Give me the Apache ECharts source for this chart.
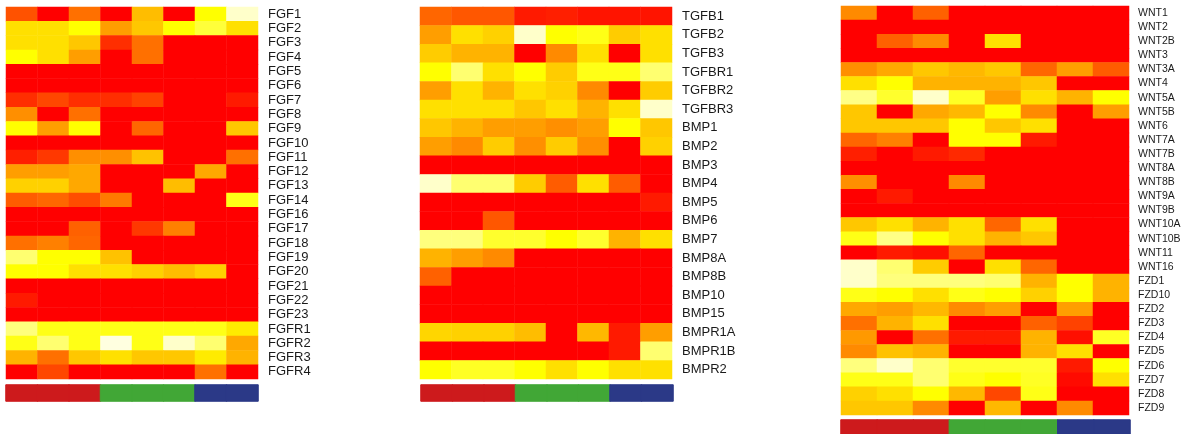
<!DOCTYPE html>
<html>
<head>
<meta charset="utf-8">
<script src="https://cdn.jsdelivr.net/npm/echarts@6/dist/echarts.min.js"></script>
<style>
html,body{margin:0;padding:0;background:#fff;}
#chart{width:1185px;height:434px;}
</style>
</head>
<body>
<div id="chart"></div>
<script>
// Expression level scale: 0 = red, 5 = yellow, 10 = near white
var samples = ['S1','S2','S3','S4','S5','S6','S7','S8'];
var sampleGroups = [0,0,0,1,1,1,2,2];
var groupColors = ['#CD1A1C','#41A736','#2B3987'];

var fgfGenes = ['FGF1','FGF2','FGF3','FGF4','FGF5','FGF6','FGF7','FGF8','FGF9','FGF10','FGF11','FGF12','FGF13','FGF14','FGF16','FGF17','FGF18','FGF19','FGF20','FGF21','FGF22','FGF23','FGFR1','FGFR2','FGFR3','FGFR4'];
var fgfValues = [
  [1.6,0,2.2,0,3.7,0,5,9.5],
  [4.4,4.4,5,3.1,3.9,5,6.3,4.4],
  [4.4,4.4,3.9,0.9,2.2,0,0,0],
  [5,4.4,3.1,0,2.2,0,0,0],
  [0,0,0,0,0,0,0,0],
  [0,0,0,0,0,0,0,0],
  [0.9,1.4,0.9,0.9,1.3,0,0,0.5],
  [2.8,0,2.2,0,0,0,0,0],
  [5,3.1,5,0,2,0,0,3.9],
  [0,0,0,0,0,0,0,0],
  [0.6,1.1,2.8,2.8,3.8,0,0,2.2],
  [3.1,3.1,3.3,0,0,0,3.3,0],
  [4.1,4.1,3.3,0,0,3.7,0,0],
  [1.8,2.0,1.5,2.4,0,0,0,5.5],
  [0,0,0,0,0,0,0,0],
  [0,0,1.9,0,1.1,2.5,0,0],
  [2.2,2.5,2.0,0,0,0,0,0],
  [7.5,5,5,3.8,0,0,0,0],
  [5,5,4.4,4.4,4.1,3.7,4.1,0],
  [0,0,0,0,0,0,0,0],
  [0.5,0,0,0,0,0,0,0],
  [0,0,0,0,0,0,0,0],
  [7.8,5.5,5.5,5.5,5.5,5.5,5.5,4.6],
  [5.5,7.5,5.5,10,5.5,9.5,7.5,3.3],
  [3.5,2.2,3.9,4.4,3.9,3.9,4.6,3.5],
  [0,1.4,0,0,0,0,2.2,0]
];

var tgfGenes = ['TGFB1','TGFB2','TGFB3','TGFBR1','TGFBR2','TGFBR3','BMP1','BMP2','BMP3','BMP4','BMP5','BMP6','BMP7','BMP8A','BMP8B','BMP10','BMP15','BMPR1A','BMPR1B','BMPR2'];
var tgfValues = [
  [2.0,1.7,1.7,0.5,0.6,0.4,0.4,0.4],
  [3.1,4.4,4.1,9.5,5,5.5,4.0,4.4],
  [4.0,3.5,3.5,0,2.7,4.4,0,4.4],
  [5,7.5,4.4,5,4.0,5.5,5.5,7.5],
  [3.1,4.4,3.5,4.4,4.1,2.7,0,4.0],
  [4.4,4.4,4.4,3.9,4.4,3.5,4.4,9.5],
  [3.9,3.5,3.1,3.1,2.8,3.1,5,3.9],
  [3.1,2.7,4.0,2.8,4.0,2.8,0,4.1],
  [0,0,0,0,0,0,0,0],
  [9.5,7.5,7.5,4.0,1.8,4.4,1.8,0],
  [0,0,0,0,0,0,0,0.5],
  [0,0,1.7,0,0,0,0,0],
  [7.8,7.8,6,6,5,6,3.5,4.4],
  [3.5,3.1,2.7,0,0,0,0,0],
  [1.9,0,0,0,0,0,0,0],
  [0,0,0,0,0,0,0,0],
  [0,0,0,0,0,0,0,0],
  [4.2,4.1,4.1,3.7,0,3.6,0.5,3.1],
  [0,0,0,0,0,0,0.5,7.5],
  [5,5.8,5.8,5,4.4,5,4.4,4.4]
];

var wntGenes = ['WNT1','WNT2','WNT2B','WNT3','WNT3A','WNT4','WNT5A','WNT5B','WNT6','WNT7A','WNT7B','WNT8A','WNT8B','WNT9A','WNT9B','WNT10A','WNT10B','WNT11','WNT16','FZD1','FZD10','FZD2','FZD3','FZD4','FZD5','FZD6','FZD7','FZD8','FZD9'];
var wntValues = [
  [2.7,0,1.9,0,0,0,0,0],
  [0,0,0,0,0,0,0,0],
  [0,1.9,2.7,0,4.4,0,0,0],
  [0,0,0,0,0,0,0,0],
  [2.8,3.3,3.9,3.6,3.9,2.0,3.1,1.8],
  [4.4,5,3.5,3.5,3.5,3.9,0,0],
  [8,6,9.5,5.8,3.1,4.4,3.5,5],
  [3.9,0,3.3,3.6,5,2.7,0,3.1],
  [3.9,3.9,3.9,5,3.9,4.4,0,0],
  [2.0,2.5,0,5,5,0.5,0,0],
  [0.6,0,0.5,0.8,0,0,0,0],
  [0,0,0,0,0,0,0,0],
  [2.8,0,0,2.7,0,0,0,0],
  [0,0.5,0,0,0,0,0,0],
  [0,0,0,0,0,0,0,0],
  [3.9,4.4,3.5,4.4,2.0,4.4,0,0],
  [5.5,8,5,4.4,3.5,3.9,0,0],
  [0,0.5,0.3,2.0,0,0,0,0],
  [9.5,7.5,4.0,0,4.4,2.0,0,0],
  [9.5,7.8,7.8,7.8,7.5,3.5,5,3.5],
  [5.5,5,4.4,5.5,5,4.1,5,3.5],
  [3.3,3.1,3.6,2.7,3.1,0,3.1,0],
  [2.2,3.5,4.4,0,0,1.9,1.3,0],
  [3.0,0,2.2,0.5,0.5,3.5,0.3,5.8],
  [2.7,3.8,3.5,0,0,3.5,4.4,0],
  [7.8,9.5,7.5,6,6,6,0.5,5],
  [5.5,5.5,7.5,5.5,5,5.8,0.2,4.4],
  [4.1,4.4,5,3.6,1.4,5.5,0,0],
  [3.9,3.9,2.7,0,3.6,0,2.7,0]
];

function toCells(rows) {
  var out = [];
  rows.forEach(function (r, ri) {
    r.forEach(function (v, ci) { out.push([ci, ri, v]); });
  });
  return out;
}
function groupCells() {
  return sampleGroups.map(function (g, i) {
    return { value: [i, 0, g], itemStyle: { color: groupColors[g], borderColor: groupColors[g], borderWidth: 1 } };
  });
}

var font = 'Liberation Sans, Arial, sans-serif';
var panels = [
  { genes: fgfGenes, values: fgfValues, left: 6, top: 7, width: 252, height: 372, barTop: 385, barLeft: 6, barWidth: 252, fs: 13, margin: 10 },
  { genes: tgfGenes, values: tgfValues, left: 420, top: 7, width: 252, height: 372, barTop: 385, barLeft: 421, barWidth: 252, fs: 13, margin: 10 },
  { genes: wntGenes, values: wntValues, left: 841, top: 6, width: 288, height: 409, barTop: 420, barLeft: 841, barWidth: 289, fs: 10.5, margin: 9 }
];

var grids = [], xAxes = [], yAxes = [], series = [], heatIdx = [];
panels.forEach(function (p, k) {
  var gi = grids.length;
  grids.push({ left: p.left, top: p.top, width: p.width, height: p.height });
  grids.push({ left: p.barLeft, top: p.barTop, width: p.barWidth, height: 16 });
  xAxes.push({ type: 'category', gridIndex: gi, data: samples, show: false });
  xAxes.push({ type: 'category', gridIndex: gi + 1, data: samples, show: false });
  yAxes.push({
    type: 'category', gridIndex: gi, data: p.genes, inverse: true, position: 'right',
    axisLine: { show: false }, axisTick: { show: false }, splitLine: { show: false },
    axisLabel: { margin: p.margin, fontSize: p.fs, color: '#1a1a1a', fontFamily: font, interval: 0 }
  });
  yAxes.push({ type: 'category', gridIndex: gi + 1, data: ['group'], show: false });
  heatIdx.push(series.length);
  series.push({
    type: 'heatmap', xAxisIndex: gi, yAxisIndex: gi, data: toCells(p.values),
    itemStyle: { borderWidth: 0 }, emphasis: { disabled: true }
  });
  series.push({
    type: 'heatmap', xAxisIndex: gi + 1, yAxisIndex: gi + 1, data: groupCells(),
    emphasis: { disabled: true }
  });
});

var chart = echarts.init(document.getElementById('chart'), null, { renderer: 'canvas' });
chart.setOption({
  backgroundColor: '#ffffff',
  animation: false,
  grid: grids,
  xAxis: xAxes,
  yAxis: yAxes,
  visualMap: {
    type: 'continuous', show: false, min: 0, max: 10, seriesIndex: heatIdx,
    inRange: { color: ['#FF0000', '#FFFF00', '#FFFFE0'] }
  },
  series: series
});
</script>
</body>
</html>
